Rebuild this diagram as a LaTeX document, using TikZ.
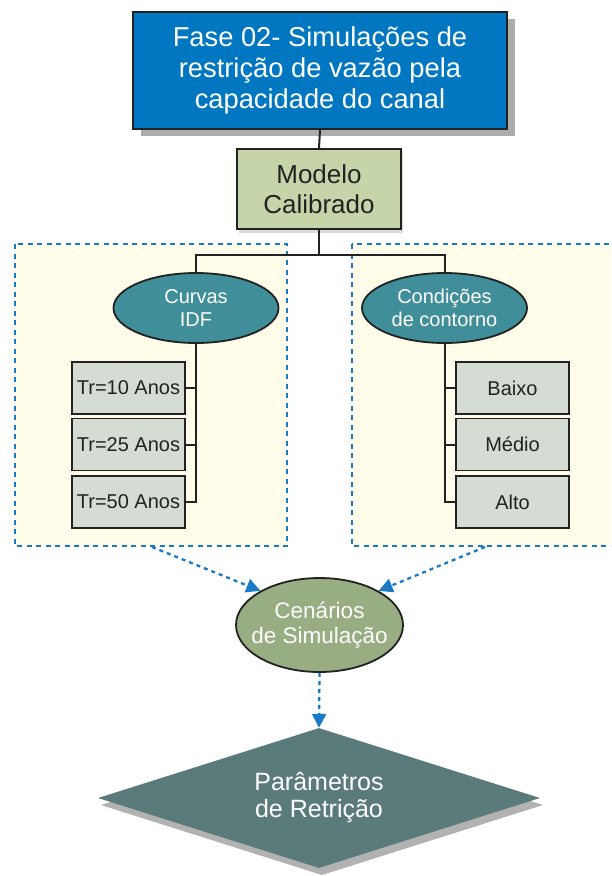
\documentclass[tikz,border=0pt]{standalone}
\usepackage{fontspec}
\setmainfont{Liberation Sans}
\usetikzlibrary{shapes.geometric,arrows.meta}
\definecolor{topblue}{RGB}{0,119,192}
\definecolor{dashblue}{RGB}{24,122,200}
\definecolor{cream}{RGB}{255,253,233}
\definecolor{olivebox}{RGB}{198,212,169}
\definecolor{tealell}{RGB}{63,142,153}
\definecolor{greybox}{RGB}{212,220,212}
\definecolor{cenfill}{RGB}{152,174,130}
\definecolor{diafill}{RGB}{91,123,122}
\definecolor{ink}{RGB}{34,34,34}
\tikzset{
  region/.style={fill=cream, draw=dashblue, line width=2.3pt, dash pattern=on 5pt off 4.5pt},
  flowarrow/.style={draw=dashblue, line width=2.3pt, dash pattern=on 4pt off 4pt,
    -{Triangle[length=14pt,width=14pt,fill=dashblue,sep=0pt]}, shorten >=0pt},
  link/.style={draw=ink, line width=2pt},
  topbox/.style={draw=ink, line width=2pt, fill=topblue, text=white, inner sep=0pt,
    minimum width=374pt, minimum height=117pt, align=center,
    font=\fontsize{27.3}{31}\selectfont},
  modbox/.style={draw=ink, line width=1.8pt, fill=olivebox, text=ink, inner sep=0pt,
    minimum width=164pt, minimum height=80pt, align=center,
    font=\fontsize{26}{30}\selectfont},
  catell/.style={ellipse, draw=ink, line width=1.8pt, fill=tealell, text=white, inner sep=0pt,
    minimum width=165pt, minimum height=70pt, align=center,
    font=\fontsize{20}{23}\selectfont},
  itembox/.style={draw=ink, line width=1.5pt, fill=greybox, text=ink, inner sep=0pt,
    minimum width=113pt, minimum height=52pt, align=center,
    font=\fontsize{20}{23}\selectfont},
  cenell/.style={ellipse, draw=ink, line width=1.8pt, fill=cenfill, inner sep=0pt,
    minimum width=167pt, minimum height=94pt},
  centext/.style={text=white, align=center, inner sep=0pt,
    font=\fontsize{22.5}{25}\selectfont},
  diabox/.style={diamond, fill=diafill, text=white, inner sep=0pt, aspect=3.157,
    minimum width=442pt, minimum height=140pt, align=center,
    font=\fontsize{25}{27}\selectfont},
}
\begin{document}
\begin{tikzpicture}[x=1pt,y=-1pt]
\useasboundingbox[fill=white] (0,0) rectangle (611,876);
\begin{scope}
\clip (0,0) rectangle (611,876);
% regions
\draw[region] (15,244) rectangle (287,546);
\draw[region] (352,244) rectangle (625,546);
\coordinate (la) at (152,547);
\coordinate (ra) at (485,547);
% shadows
\fill[gray!65] (141,19) rectangle (515,136);
\fill[gray!30] (239,151) rectangle (403,233);
\fill[gray!60] (322,735) -- (543,805) -- (322,875) -- (101,805) -- cycle;
% nodes
\node[topbox] (top) at (320,70.5) {Fase 02- Simulações de\\restrição de vazão pela\\capacidade do canal};
\node[modbox] (modelo) at (319,189) {Modelo\\Calibrado};
\node[catell] (idf) at (196,308) {Curvas\\IDF};
\node[catell] (cond) at (444.5,308) {Condições\\de contorno};
\node[itembox] (tr10) at (128.5,388) {Tr=10 Anos};
\node[itembox] (tr25) at (128.5,444.5) {Tr=25 Anos};
\node[itembox] (tr50) at (128.5,502) {Tr=50 Anos};
\node[itembox] (baixo) at (512.5,388) {Baixo};
\node[itembox] (medio) at (512.5,444.5) {Médio};
\node[itembox] (alto) at (512.5,502) {Alto};
\node[cenell, label={[centext]center:Cenários\\de Simulação}] (cen) at (319.5,625) {};
\node[diabox] (param) at (319,798) {Parâmetros\\de Retrição};
% connectors
\coordinate (hub) at (319,255);
\draw[link] (top.south) -- (modelo.north);
\draw[link] (modelo.south) -- (hub);
\draw[link] (idf.north) |- (hub) -| (cond.north);
\draw[link] (idf.south) |- (tr50.east);
\draw[link] (tr10.east) -- (tr10.east -| idf.south);
\draw[link] (tr25.east) -- (tr25.east -| idf.south);
\draw[link] (cond.south) |- (alto.west);
\draw[link] (baixo.west) -- (baixo.west -| cond.south);
\draw[link] (medio.west) -- (medio.west -| cond.south);
% flow arrows
\draw[flowarrow] (la) -- (cen.150);
\draw[flowarrow] (ra) -- (cen.30);
\draw[flowarrow] (cen.south) -- (param.north);
\end{scope}
\end{tikzpicture}
\end{document}
